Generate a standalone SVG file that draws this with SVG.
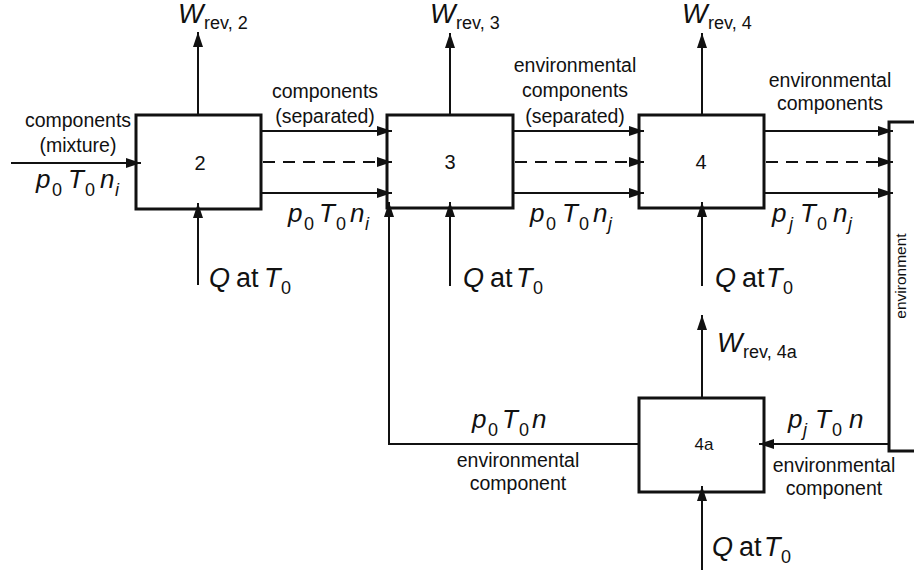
<svg xmlns="http://www.w3.org/2000/svg" width="914" height="574" viewBox="0 0 914 574">
  <style>
    .box { fill: #fff; stroke: #111; stroke-width: 3; }
    .flow { fill: none; stroke: #111; stroke-width: 2; marker-end: url(#arrow); }
    .dash { stroke-dasharray: 12 8; }
    text { font-family: "Liberation Sans", Arial, sans-serif; fill: #111; }
    .lbl { font-size: 19.5px; text-anchor: middle; }
    .num { font-size: 20px; text-anchor: middle; }
    .var { font-size: 26px; font-style: italic; }
    .q { font-size: 27px; }
    .it { font-style: italic; }
    .sub { font-size: 18px; font-style: normal; }
    .subi { font-size: 18px; font-style: italic; }
    .env { font-size: 15.5px; text-anchor: middle; }
  </style>
  <defs>
    <marker id="arrow" markerUnits="userSpaceOnUse" markerWidth="16" markerHeight="12" refX="15" refY="5" orient="auto">
      <path d="M0,0 L15,5 L0,10 Z" fill="#111"/>
    </marker>
  </defs>

  <!-- process nodes -->
  <g id="node-2">
    <rect class="box" x="136" y="115" width="125" height="94"/>
    <text class="num" x="200" y="170">2</text>
  </g>
  <g id="node-3">
    <rect class="box" x="387" y="115" width="126" height="93"/>
    <text class="num" x="450" y="169">3</text>
  </g>
  <g id="node-4">
    <rect class="box" x="639" y="115" width="125" height="93"/>
    <text class="num" x="701" y="169">4</text>
  </g>
  <g id="node-4a">
    <rect class="box" x="639" y="398" width="125" height="94"/>
    <text class="num" x="704" y="450" style="font-size:17px">4a</text>
  </g>
  <g id="environment">
    <rect class="box" x="889" y="122" width="40" height="329"/>
    <text class="env" transform="translate(906,276) rotate(-90)">environment</text>
  </g>

  <!-- connectors -->
  <g id="connectors">
    <!-- feed into 2 -->
    <line class="flow" x1="11" y1="163" x2="141" y2="163"/>
    <!-- 2 to 3 -->
    <line class="flow" x1="261" y1="131" x2="392" y2="131"/>
    <line class="flow dash" x1="263" y1="162" x2="392" y2="162"/>
    <line class="flow" x1="261" y1="193" x2="392" y2="193"/>
    <!-- 3 to 4 -->
    <line class="flow" x1="513" y1="131" x2="644" y2="131"/>
    <line class="flow dash" x1="515" y1="162" x2="644" y2="162"/>
    <line class="flow" x1="513" y1="193" x2="644" y2="193"/>
    <!-- 4 to environment -->
    <line class="flow" x1="764" y1="131" x2="893" y2="131"/>
    <line class="flow dash" x1="766" y1="162" x2="893" y2="162"/>
    <line class="flow" x1="764" y1="193" x2="893" y2="193"/>
    <!-- work outputs -->
    <line class="flow" x1="198" y1="115" x2="198" y2="32"/>
    <line class="flow" x1="450" y1="115" x2="450" y2="33"/>
    <line class="flow" x1="702" y1="115" x2="702" y2="33"/>
    <line class="flow" x1="702" y1="398" x2="702" y2="315"/>
    <!-- heat inputs -->
    <line class="flow" x1="198" y1="285" x2="198" y2="203"/>
    <line class="flow" x1="450" y1="286" x2="450" y2="202"/>
    <line class="flow" x1="702" y1="286" x2="702" y2="202"/>
    <line class="flow" x1="702" y1="570" x2="702" y2="486"/>
    <!-- environment to 4a and return to 3 -->
    <line class="flow" x1="889" y1="444" x2="759" y2="444"/>
    <path class="flow" d="M639,444 H389 V202"/>
  </g>

  <!-- stream and energy labels -->
  <g id="labels">
    <text class="lbl" x="78" y="127">components</text>
    <text class="lbl" x="78" y="152">(mixture)</text>
    <text class="var"><tspan x="36" y="188">p</tspan><tspan class="sub" x="52" y="196">0</tspan><tspan x="68" y="188">T</tspan><tspan class="sub" x="85" y="196">0</tspan><tspan x="100" y="188">n</tspan><tspan class="subi" x="115" y="196">i</tspan></text>

    <text class="lbl" x="325" y="98">components</text>
    <text class="lbl" x="325" y="123">(separated)</text>
    <text class="var"><tspan x="288" y="222">p</tspan><tspan class="sub" x="304" y="230">0</tspan><tspan x="319" y="222">T</tspan><tspan class="sub" x="336" y="230">0</tspan><tspan x="350" y="222">n</tspan><tspan class="subi" x="365" y="230">i</tspan></text>

    <text class="lbl" x="575" y="72">environmental</text>
    <text class="lbl" x="575" y="97">components</text>
    <text class="lbl" x="575" y="123">(separated)</text>
    <text class="var"><tspan x="530" y="222">p</tspan><tspan class="sub" x="546" y="230">0</tspan><tspan x="562" y="222">T</tspan><tspan class="sub" x="579" y="230">0</tspan><tspan x="593" y="222">n</tspan><tspan class="subi" x="608" y="230">j</tspan></text>

    <text class="lbl" x="830" y="87">environmental</text>
    <text class="lbl" x="830" y="110">components</text>
    <text class="var"><tspan x="772" y="222">p</tspan><tspan class="subi" x="789" y="230">j</tspan><tspan x="800" y="222">T</tspan><tspan class="sub" x="817" y="230">0</tspan><tspan x="833" y="222">n</tspan><tspan class="subi" x="848" y="230">j</tspan></text>

    <text class="var"><tspan x="472" y="428">p</tspan><tspan class="sub" x="488" y="436">0</tspan><tspan x="502" y="428">T</tspan><tspan class="sub" x="519" y="436">0</tspan><tspan x="532" y="428">n</tspan></text>
    <text class="lbl" x="518" y="467">environmental</text>
    <text class="lbl" x="518" y="490">component</text>

    <text class="var"><tspan x="788" y="428">p</tspan><tspan class="subi" x="803" y="436">j</tspan><tspan x="815" y="428">T</tspan><tspan class="sub" x="832" y="436">0</tspan><tspan x="849" y="428">n</tspan></text>
    <text class="lbl" x="834" y="472">environmental</text>
    <text class="lbl" x="834" y="495">component</text>

    <!-- work -->
    <text class="q"><tspan class="it" x="178" y="23">W</tspan><tspan class="sub" x="204" y="29">rev, 2</tspan></text>
    <text class="q"><tspan class="it" x="430" y="23">W</tspan><tspan class="sub" x="456" y="29">rev, 3</tspan></text>
    <text class="q"><tspan class="it" x="682" y="23">W</tspan><tspan class="sub" x="708" y="29">rev, 4</tspan></text>
    <text class="q"><tspan class="it" x="717" y="352">W</tspan><tspan class="sub" x="743" y="358">rev, 4a</tspan></text>

    <!-- heat -->
    <text class="q"><tspan class="it" x="209" y="287">Q</tspan><tspan x="236" y="287">at</tspan><tspan class="it" x="264" y="287">T</tspan><tspan class="sub" x="281" y="294">0</tspan></text>
    <text class="q"><tspan class="it" x="463" y="287">Q</tspan><tspan x="490" y="287">at</tspan><tspan class="it" x="516" y="287">T</tspan><tspan class="sub" x="533" y="294">0</tspan></text>
    <text class="q"><tspan class="it" x="715" y="287">Q</tspan><tspan x="742" y="287">at</tspan><tspan class="it" x="766" y="287">T</tspan><tspan class="sub" x="783" y="294">0</tspan></text>
    <text class="q"><tspan class="it" x="712" y="556">Q</tspan><tspan x="739" y="556">at</tspan><tspan class="it" x="764" y="556">T</tspan><tspan class="sub" x="781" y="563">0</tspan></text>
  </g>
</svg>
